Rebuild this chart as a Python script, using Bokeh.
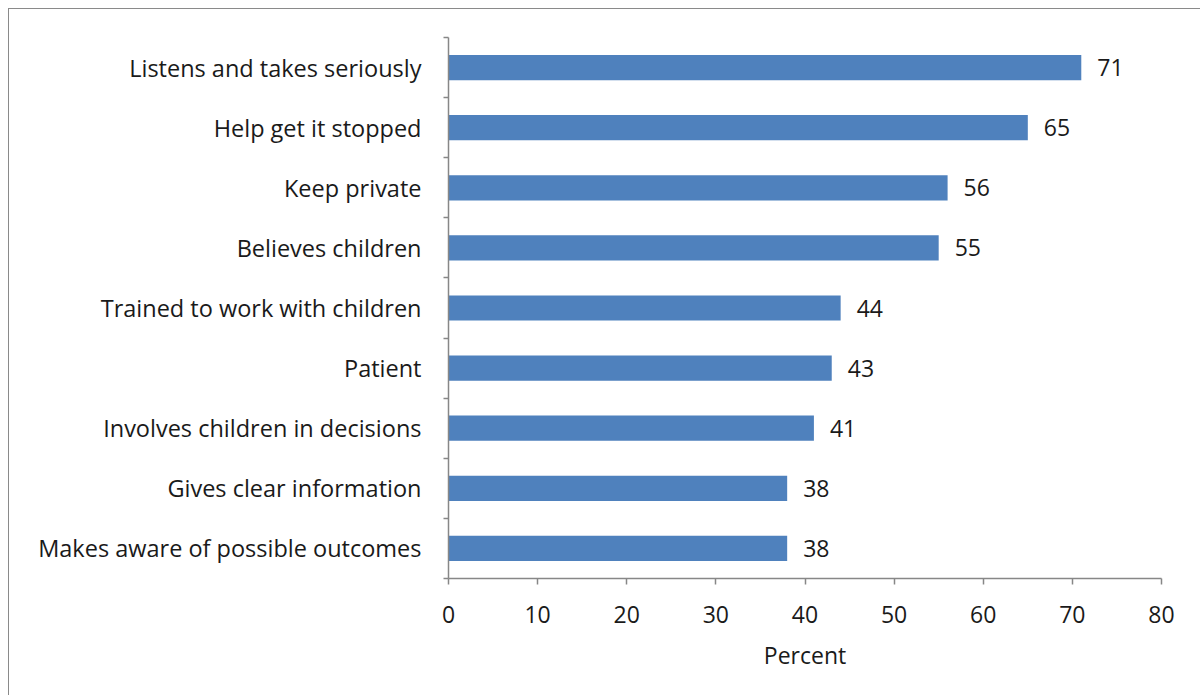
from bokeh.plotting import figure
from bokeh.models import FixedTicker, Range1d, ColumnDataSource, LabelSet
from bokeh.core.properties import value
from bokeh.embed import file_html
from bokeh.resources import INLINE

categories = [
    "Listens and takes seriously",
    "Help get it stopped",
    "Keep private",
    "Believes children",
    "Trained to work with children",
    "Patient",
    "Involves children in decisions",
    "Gives clear information",
    "Makes aware of possible outcomes",
]
values = [71, 65, 56, 55, 44, 43, 41, 38, 38]
x_ticks = [0, 10, 20, 30, 40, 50, 60, 70, 80]
x_title = "Percent"

n = len(categories)
pos = [n - 0.5 - i for i in range(n)]

FONT = "Open Sans"
FS = "23px"
FSY = "23.5px"
TEXT = "#1a1a1a"
AXIS = "#878787"
BAR = "#4F81BD"
OFF = 9  # outer frame offset

src = ColumnDataSource(dict(y=pos, v=values, lab=[str(v) for v in values]))

p = figure(width=1203 - OFF - 2, height=698 - OFF - 2, output_backend="svg", toolbar_location=None,
           x_range=Range1d(0, 80), y_range=Range1d(0, n),
           min_border_left=448 - OFF, min_border_right=40, min_border_top=37 - OFF,
           min_border_bottom=118)
p.outline_line_color = None
p.xgrid.visible = False
p.ygrid.visible = False
p.background_fill_color = "white"
p.border_fill_color = "white"
p.margin = (OFF - 1, 0, 0, OFF - 1)
p.styles = {"border-left": "1px solid #8a8a8a", "border-top": "1px solid #8a8a8a"}

p.hbar(y="y", right="v", left=0, height=0.42, source=src, fill_color=BAR, line_color=None)

labels = LabelSet(x="v", y="y", text="lab", source=src, x_offset=16,
                  text_baseline="middle", text_align="left",
                  text_font=value(FONT), text_font_size=value(FS), text_color=TEXT)
p.add_layout(labels)

ya = p.yaxis[0]
ya.ticker = FixedTicker(ticks=pos, minor_ticks=list(range(n + 1)))
ya.major_label_overrides = {pp: c for pp, c in zip(pos, categories)}
ya.major_tick_out = 0
ya.major_tick_in = 0
ya.minor_tick_out = 5
ya.minor_tick_in = 0
ya.minor_tick_line_color = AXIS
ya.minor_tick_line_width = 1.5
ya.axis_line_color = AXIS
ya.axis_line_width = 1.5
ya.major_label_standoff = 22
ya.major_label_text_font = FONT
ya.major_label_text_font_size = FSY
ya.major_label_text_color = TEXT

xa = p.xaxis[0]
xa.ticker = FixedTicker(ticks=x_ticks, minor_ticks=[])
xa.major_tick_out = 6
xa.major_tick_in = 0
xa.major_tick_line_color = AXIS
xa.major_tick_line_width = 1.5
xa.minor_tick_line_color = None
xa.axis_line_color = AXIS
xa.axis_line_width = 1.5
xa.major_label_standoff = 21
xa.major_label_text_font = FONT
xa.major_label_text_font_size = FS
xa.major_label_text_color = TEXT
xa.axis_label = x_title
xa.axis_label_standoff = 13
xa.axis_label_text_font = FONT
xa.axis_label_text_font_size = FS
xa.axis_label_text_font_style = "normal"
xa.axis_label_text_color = TEXT

open("out.html", "w").write(file_html(p, INLINE))
